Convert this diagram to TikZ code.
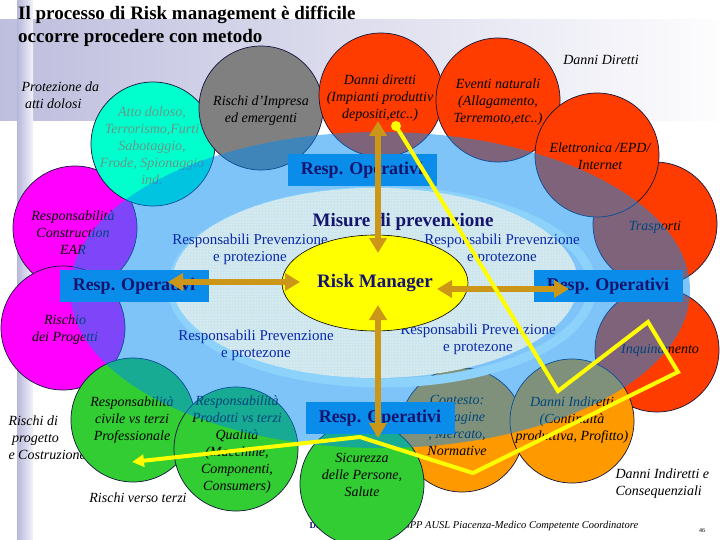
\documentclass[tikz,border=0pt]{standalone}
\usepackage{fontspec}
\setmainfont{Liberation Serif}
\usetikzlibrary{arrows.meta, positioning, shapes.geometric, patterns}

\definecolor{rosso}{RGB}{255,60,0}
\definecolor{arancio}{RGB}{255,153,0}
\definecolor{verde}{RGB}{50,205,50}
\definecolor{fucsia}{RGB}{255,0,255}
\definecolor{acqua}{RGB}{0,255,204}
\definecolor{grigio}{RGB}{128,128,128}
\definecolor{grigiotxt}{RGB}{105,150,140}
\definecolor{velo}{RGB}{0,138,245}
\definecolor{pallido}{RGB}{205,230,238}
\definecolor{anello}{RGB}{140,210,250}
\definecolor{blubox}{RGB}{10,140,235}
\definecolor{navy2}{RGB}{20,20,110}
\definecolor{oro}{RGB}{204,150,25}
\definecolor{bluetxt}{RGB}{10,40,170}
\definecolor{giallo}{RGB}{255,255,0}
\definecolor{lavanda}{RGB}{190,190,222}
\definecolor{bordo}{RGB}{20,20,60}

\begin{document}
\begin{tikzpicture}[x=1pt, y=-1pt,
    bolla/.style={circle, draw=bordo, line width=0.7pt, minimum size=124pt, inner sep=0pt}, % the coloured risk circles
    testo/.style={align=center, font=\fontsize{14}{17}\selectfont\itshape},
    fuori/.style={align=left, font=\fontsize{14}{17}\selectfont\itshape},
    prev/.style={align=center, text=bluetxt, font=\fontsize{15}{17}\selectfont},
    resp/.style={rectangle, fill=blubox, minimum width=149pt, minimum height=32pt, inner sep=0pt, text=navy2, font=\fontsize{18}{20}\selectfont\bfseries},
    freccia/.style={draw=oro, line width=6pt, {Triangle[length=15pt, width=17pt]}-{Triangle[length=15pt, width=17pt]}}, % golden double arrows
    percorso/.style={draw=giallo, line width=4pt, -{Triangle[length=12pt, width=12pt]}},
    punto/.style={circle, fill=giallo, minimum size=10pt, inner sep=0pt}
]
\useasboundingbox (0,0) rectangle (720,540);
\clip (0,0) rectangle (720,540);

% Background
\fill[white] (0,0) rectangle (720,540);
\shade[left color=lavanda, right color=white!97!lavanda] (0,20) rectangle (720,121);
\shade[left color=lavanda!110, right color=white!80!lavanda] (17,0) rectangle (33,540);

% Title
\node[anchor=north west, align=left, inner sep=0pt, font=\fontsize{19}{23}\selectfont\bfseries] (titolo) at (18,6) {Il processo di Risk management è difficile\\occorre procedere con metodo};

% Outer labels
\node[fuori, anchor=west] (dolosi) at (18,95) {Protezione da\\\ atti dolosi};
\node[fuori] (diretti-lab) at (601,60) {Danni Diretti};
\node[fuori, anchor=west] (indiretti-lab) at (612,484) {Danni Indiretti e\\Consequenziali};
\node[fuori] (terzi-lab) at (138,498) {Rischi verso terzi};
\node[fuori, anchor=west] (progetto-lab) at (5,438) {Rischi di\\\ progetto\\e Costruzione};

% Footer
\node[anchor=west, text=navy2, font=\fontsize{9}{10}\selectfont\bfseries] (autore) at (306,526) {Dr};
\node[anchor=west, font=\fontsize{10.5}{12}\selectfont\itshape] (ente) at (401,526) {SPP AUSL Piacenza-Medico Competente Coordinatore};
\node[font=\fontsize{6}{7}\selectfont] (pagina) at (702,531) {46};

% Left circles
\node[bolla, fill=fucsia] (costr) at (75,228) {};
\node[testo] (costr-t) at (73,233) {Responsabilità\\Construction\\EAR};
\node[bolla, fill=fucsia] (progetti) at (63,328) {};
\node[testo] (progetti-t) at (65,330) {Rischio\\dei Progetti};
\node[bolla, fill=acqua] (dolo) at (153,144) {};
\node[testo, text=grigiotxt] (dolo-t) at (152,146) {Atto doloso,\\Terrorismo,Furti\\Sabotaggio,\\Frode, Spionaggio\\ind.};
\node[bolla, fill=grigio] (impresa) at (261,108) {};
\node[testo] (impresa-t) at (261,111) {Rischi d’Impresa\\ed emergenti};

% Red circles (danni diretti)
\node[bolla, fill=rosso] (diretti) at (381,95) {};
\node[testo] (diretti-t) at (380,98) {Danni diretti\\(Impianti produttiv\\depositi,etc..)};
\node[bolla, fill=rosso] (eventi) at (498,100) {};
\node[testo] (eventi-t) at (498,102) {Eventi naturali\\(Allagamento,\\Terremoto,etc..)};
\node[bolla, fill=rosso] (trasp) at (655,224) {};
\node[testo] (trasp-t) at (655,227) {Trasporti};
\node[bolla, fill=rosso] (elettr) at (597,155) {};
\node[testo] (elettr-t) at (600,156) {Elettronica /EPD/\\Internet};
\node[bolla, fill=rosso] (inquin) at (657,350) {};
\node[testo] (inquin-t) at (660,350) {Inquinamento};

% Orange circles (danni indiretti)
\node[bolla, fill=arancio] (contesto) at (462,430) {};
\node[testo] (contesto-t) at (457,425) {Contesto:\\Immagine\\, Mercato,\\Normative};
\node[bolla, fill=arancio] (indiretti) at (572,421) {};
\node[testo] (indiretti-t) at (572,420) {Danni Indiretti\\(Continuità\\produttiva, Profitto)};

% Green circles
\node[bolla, fill=verde] (civile) at (133,420) {};
\node[testo] (civile-t) at (132,420) {Responsabilità\\civile vs terzi\\Professionale};
\node[bolla, fill=verde] (prodotti) at (236,449) {};
\node[testo] (prodotti-t) at (237,445) {Responsabilità\\Prodotti vs terzi\\Qualità\\(Macchine,\\Componenti,\\Consumers)};
\node[bolla, fill=verde] (sicur) at (362,484) {};
\node[testo] (sicur-t) at (362,475) {Sicurezza\\delle Persone,\\Salute};

% Blue veil and inner area
\fill[velo, opacity=0.5] (380,290) ellipse [x radius=310pt, y radius=158pt];
\draw[anello, line width=9pt] (382,287) ellipse [x radius=210pt, y radius=96pt];
\fill[pallido] (375,283) ellipse [x radius=203pt, y radius=95pt];
\fill[pattern=dots, pattern color=white] (375,283) ellipse [x radius=203pt, y radius=95pt];

\node[text=navy2, font=\fontsize{19}{21}\selectfont\bfseries] (misure) at (403,222) {Misure di prevenzione};
\node[prev] (prev-no) at (250,249) {Responsabili Prevenzione\\e protezione};
\node[prev] (prev-ne) at (502,249) {Responsabili Prevenzione\\e protezone};
\node[prev] (prev-so) at (256,345) {Responsabili Prevenzione\\e protezone};
\node[prev] (prev-se) at (478,339) {Responsabili Prevenzione\\e protezone};

% Risk manager
\node[ellipse, draw=black, line width=0.6pt, fill=giallo, minimum width=186pt, minimum height=96pt, inner sep=0pt, text=navy2, font=\fontsize{19}{21}\selectfont\bfseries] (rm) at (375,283) {Risk Manager};

% Resp. operativi
\node[resp] (op-nord) at (362,170) {Resp. Operativi};
\node[resp] (op-ovest) at (134,286) {Resp. Operativi};
\node[resp] (op-est) at (608,286) {Resp. Operativi};
\node[resp] (op-sud) at (380,418) {Resp. Operativi};

% Arrows
\coordinate (nord-a) at (378,121);
\coordinate (nord-b) at (378,253);
\coordinate (sud-a) at (378,305);
\coordinate (sud-b) at (378,438);
\coordinate (ovest-a) at (168,282);
\coordinate (ovest-b) at (300,282);
\coordinate (est-a) at (437,289);
\coordinate (est-b) at (569,289);
\draw[freccia] (nord-a) -- (nord-b);
\draw[freccia] (sud-a) -- (sud-b);
\draw[freccia] (ovest-a) -- (ovest-b);
\draw[freccia] (est-a) -- (est-b);

% Yellow path
\node[punto] (y0) at (396,126) {};
\coordinate (y1) at (558,391);
\coordinate (y2) at (648,322);
\coordinate (y3) at (678,372);
\coordinate (y4) at (473,473);
\coordinate (y5) at (360,437);
\coordinate (y6) at (132,462);
\draw[percorso] (y0.center) -- (y1) -- (y2) -- (y3) -- (y4) -- (y5) -- (y6);

\end{tikzpicture}
\end{document}
